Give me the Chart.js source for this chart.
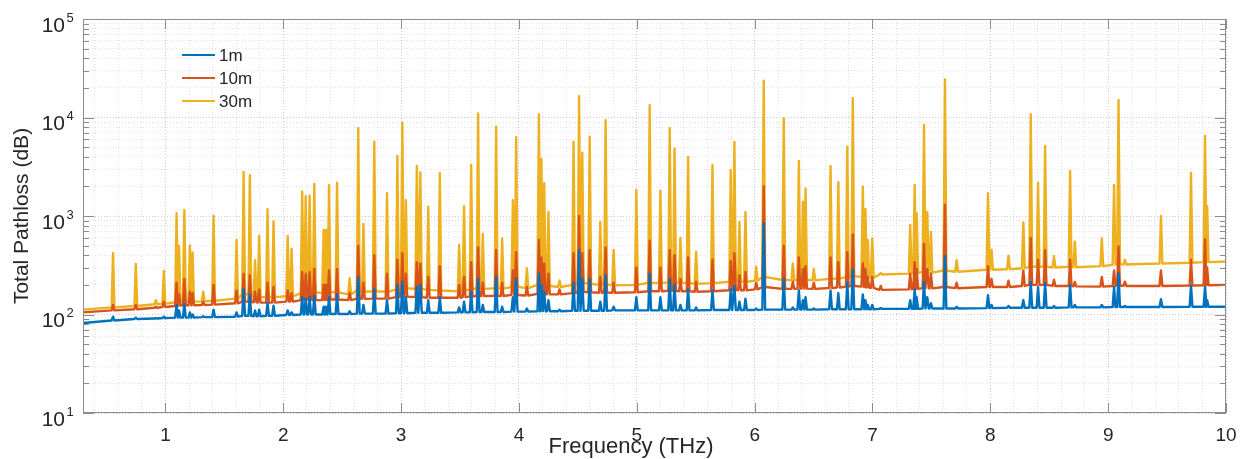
<!DOCTYPE html>
<html>
<head>
<meta charset="utf-8">
<script src="https://cdn.jsdelivr.net/npm/chart.js@4.4.1/dist/chart.umd.min.js"></script>
<style>
  html, body { margin: 0; padding: 0; background: #fff; }
  #wrap { width: 1249px; height: 459px; position: relative; }
</style>
</head>
<body>
<div id="wrap"><canvas id="pathlossChart"></canvas></div>
<script>
const seriesLabels = ["1m", "10m", "30m"];
const seriesColors = ["#0072BD", "#D95319", "#EDB120"];

const xTickValues = [1, 2, 3, 4, 5, 6, 7, 8, 9, 10];
const yTickValues = [10, 100, 1000, 10000, 100000];
const yTickExponents = ["1", "2", "3", "4", "5"];

// start / end of each curve (0.3 THz and 10 THz)
const edgeFreqs = [0.3, 10];
const edge1m = [82, 120];
const edge10m = [105, 200];
const edge30m = [112, 345];

// absorption lines (THz)
const lineFreqs = [
  0.555, 0.748, 0.918, 0.986,
  1.094, 1.115, 1.16, 1.207, 1.23, 1.32, 1.408, 1.603, 1.663, 1.716, 1.76, 1.795, 1.866, 1.917,
  2.037, 2.07, 2.16, 2.19, 2.223, 2.263, 2.342, 2.362, 2.388, 2.456, 2.563, 2.636, 2.68, 2.772, 2.88, 2.968,
  3.01, 3.04, 3.133, 3.163, 3.23, 3.328, 3.492, 3.534, 3.594, 3.653, 3.693, 3.806, 3.857, 3.948, 3.976,
  4.067, 4.169, 4.19, 4.214, 4.25, 4.344, 4.463, 4.51, 4.537, 4.6, 4.69, 4.735, 4.803, 4.996,
  5.109, 5.2, 5.279, 5.32, 5.37, 5.435, 5.503, 5.642, 5.797, 5.828, 5.871, 5.922,
  6.013, 6.077, 6.247, 6.324, 6.375, 6.41, 6.432, 6.502, 6.644, 6.71, 6.786, 6.833, 6.918, 6.94, 6.96, 6.998,
  7.07, 7.32, 7.358, 7.375, 7.437, 7.465, 7.496, 7.615, 7.714, 7.98,
  8.01, 8.154, 8.28, 8.343, 8.405, 8.465, 8.54, 8.677, 8.717, 8.946,
  9.05, 9.088, 9.142, 9.448, 9.703, 9.822, 9.84
];

// peak values (dB)
const peak1m = [
  95, 93, 92, 95,
  125, 110, 128, 105, 100, 96, 112, 105, 182, 160, 110, 112, 131, 123,
  110, 105, 150, 145, 150, 155, 120, 120, 150, 160, 108, 240, 125, 180, 140, 200,
  215, 150, 190, 200, 140, 150, 118, 135, 170, 230, 125, 240, 120, 150, 230,
  115, 260, 200, 170, 140, 112, 210, 450, 230, 230, 135, 250, 120, 150,
  260, 150, 230, 200, 125, 180, 118, 175, 180, 195, 135, 145,
  115, 850, 230, 118, 175, 140, 150, 115, 175, 165, 210, 285, 160, 140, 125, 125,
  116, 140, 180, 150, 214, 150, 130, 390, 120, 157,
  125, 122, 140, 214, 190, 210, 122, 200, 125, 125,
  190, 263, 122, 143, 196, 190, 140
];
const peak10m = [
  125, 125, 120, 135,
  210, 160, 230, 170, 165, 135, 200, 175, 260, 250, 170, 180, 210, 190,
  175, 165, 270, 260, 270, 290, 200, 200, 280, 290, 165, 500, 210, 400, 260, 360,
  420, 260, 340, 330, 240, 310, 200, 240, 340, 480, 210, 450, 210, 280, 430,
  190, 570, 380, 330, 260, 180, 420, 1000, 420, 450, 240, 480, 210, 300,
  560, 300, 450, 400, 230, 380, 215, 360, 350, 420, 250, 270,
  210, 2000, 500, 215, 380, 290, 310, 210, 380, 340, 430, 650, 330, 290, 240, 240,
  195, 260, 340, 290, 520, 290, 260, 1300, 210, 310,
  230, 220, 280, 600, 360, 450, 225, 360, 214, 240,
  280, 490, 215, 280, 360, 580, 300
];
const peak30m = [
  420, 326, 140, 276,
  1070, 500, 1150, 500, 425, 170, 1000, 570, 2800, 2600, 355, 630, 1170, 880,
  627, 466, 1770, 1590, 1620, 2110, 720, 720, 2050, 2180, 234, 7770, 830, 5670, 1700, 4070,
  8860, 1450, 3230, 2760, 1240, 2720, 510, 1260, 3300, 11000, 660, 8070, 590, 1450, 6300,
  295, 10800, 3800, 2150, 1100, 222, 5680, 16500, 4400, 6400, 870, 9400, 452, 1840,
  13300, 1810, 7770, 4860, 600, 3970, 435, 3300, 2930, 5630, 870, 1100,
  305, 23700, 9790, 330, 3630, 1400, 1900, 290, 3230, 2210, 5040, 15670, 2000, 1170, 570, 590,
  263, 810, 2070, 1070, 8390, 1100, 690, 24400, 355, 1700,
  455, 395, 862, 10800, 2180, 5130, 390, 2860, 550, 590,
  2070, 15100, 360, 1000, 2730, 6500, 1260
];

// level at the foot of each line (dB)
const foot1m = [
  87, 90, 91, 92,
  93, 93, 93, 93, 93, 94, 94, 95, 97, 97, 96, 96, 97, 97,
  99, 99, 100, 100, 100, 100, 100, 100, 101, 101, 101, 102, 102, 102, 102, 103,
  103, 103, 104, 104, 104, 104, 105, 105, 105, 106, 106, 106, 106, 107, 107,
  107, 108, 108, 108, 108, 108, 109, 109, 109, 109, 109, 109, 110, 110,
  110, 110, 110, 110, 110, 110, 110, 111, 111, 111, 111, 111,
  111, 112, 112, 112, 112, 112, 112, 112, 113, 113, 113, 113, 113, 113, 113, 113,
  114, 114, 114, 114, 115, 115, 115, 115, 115, 116,
  116, 117, 117, 117, 117, 117, 117, 118, 118, 118,
  119, 119, 119, 119, 120, 120, 120
];
const foot10m = [
  110, 113, 117, 119,
  122, 123, 124, 124, 124, 125, 126, 130, 135, 135, 133, 132, 132, 132,
  135, 135, 140, 142, 142, 140, 140, 140, 142, 142, 140, 145, 144, 145, 145, 150,
  152, 152, 150, 150, 148, 148, 148, 150, 152, 155, 154, 155, 154, 158, 158,
  156, 162, 162, 160, 160, 160, 165, 170, 170, 168, 166, 167, 166, 168,
  172, 172, 174, 174, 172, 172, 170, 172, 176, 178, 176, 176,
  180, 190, 182, 182, 183, 183, 183, 182, 186, 188, 192, 195, 192, 190, 188, 186,
  178, 180, 182, 182, 185, 185, 184, 190, 185, 190,
  190, 190, 195, 200, 200, 200, 195, 195, 193, 192,
  195, 197, 195, 195, 197, 198, 198
];
const foot30m = [
  118, 122, 127, 129,
  133, 135, 136, 136, 135, 136, 138, 145, 160, 160, 152, 150, 150, 150,
  153, 153, 165, 170, 170, 168, 165, 165, 168, 168, 160, 175, 170, 172, 170, 180,
  185, 185, 182, 182, 178, 175, 172, 175, 180, 185, 182, 185, 183, 190, 192,
  185, 200, 200, 198, 195, 190, 200, 210, 210, 205, 200, 202, 198, 200,
  210, 208, 212, 212, 210, 208, 205, 208, 215, 218, 215, 215,
  220, 240, 225, 222, 225, 225, 225, 222, 230, 232, 240, 245, 240, 240, 238, 236,
  255, 260, 265, 265, 270, 268, 266, 280, 272, 285,
  285, 288, 295, 305, 305, 305, 300, 305, 302, 310,
  320, 325, 322, 330, 335, 340, 340
];

const lineHalfWidth = 0.012;

function curvePoints(edge, foot, peak) {
  const pts = [{ x: edgeFreqs[0], y: edge[0] }];
  lineFreqs.forEach((f, i) => {
    pts.push({ x: f - lineHalfWidth, y: foot[i] });
    pts.push({ x: f, y: peak[i] });
    pts.push({ x: f + lineHalfWidth, y: foot[i] });
  });
  pts.push({ x: edgeFreqs[1], y: edge[1] });
  return pts;
}

const FONT = '"Liberation Sans", Arial, Helvetica, sans-serif';
const TEXT = "#262626";

// MATLAB-like box, inner ticks, y labels, titles and legend
const matlabAxes = {
  id: "matlabAxes",
  afterDraw(chart) {
    const { ctx, chartArea: a, scales: { x, y } } = chart;
    ctx.save();
    ctx.strokeStyle = "#8c8c8c";
    ctx.lineWidth = 1;
    ctx.strokeRect(a.left + 0.5, a.top + 0.5, a.right - a.left - 1, a.bottom - a.top - 1);

    ctx.beginPath();
    xTickValues.forEach(v => {
      const px = Math.round(x.getPixelForValue(v)) + 0.5;
      ctx.moveTo(px, a.bottom); ctx.lineTo(px, a.bottom - 10);
      ctx.moveTo(px, a.top); ctx.lineTo(px, a.top + 10);
    });
    y.ticks.forEach(t => {
      const len = yTickValues.includes(t.value) ? 11 : 6;
      const py = Math.round(y.getPixelForValue(t.value)) + 0.5;
      ctx.moveTo(a.left, py); ctx.lineTo(a.left + len, py);
      ctx.moveTo(a.right, py); ctx.lineTo(a.right - len, py);
    });
    ctx.stroke();

    // y tick labels 10^n
    ctx.fillStyle = TEXT;
    ctx.textBaseline = "alphabetic";
    yTickValues.forEach((v, i) => {
      const py = y.getPixelForValue(v);
      ctx.font = "21px " + FONT;
      ctx.textAlign = "right";
      ctx.fillText("10", 65, py + 12.5);
      ctx.font = "13px " + FONT;
      ctx.textAlign = "left";
      ctx.fillText(yTickExponents[i], 66.5, py + 2.5);
    });

    // axis titles
    ctx.textAlign = "center";
    ctx.textBaseline = "middle";
    ctx.font = "21px " + FONT;
    ctx.save();
    ctx.translate(22, 216);
    ctx.rotate(-Math.PI / 2);
    ctx.fillText("Total Pathloss (dB)", 0, 0);
    ctx.restore();
    ctx.font = "22px " + FONT;
    ctx.fillText("Frequency (THz)", 631, 447);

    // legend
    ctx.font = "17px " + FONT;
    ctx.textAlign = "left";
    chart.data.datasets.forEach((ds, i) => {
      const ly = 55 + i * 23;
      ctx.strokeStyle = ds.borderColor;
      ctx.lineWidth = 2;
      ctx.beginPath();
      ctx.moveTo(182, ly); ctx.lineTo(215, ly);
      ctx.stroke();
      ctx.fillStyle = TEXT;
      ctx.fillText(ds.label, 219, ly + 1.5);
    });
    ctx.restore();
  }
};

const datasets = [
  { label: seriesLabels[0], data: curvePoints(edge1m, foot1m, peak1m), borderColor: seriesColors[0] },
  { label: seriesLabels[1], data: curvePoints(edge10m, foot10m, peak10m), borderColor: seriesColors[1] },
  { label: seriesLabels[2], data: curvePoints(edge30m, foot30m, peak30m), borderColor: seriesColors[2] }
].map(ds => Object.assign(ds, {
  borderWidth: 2.4,
  pointRadius: 0,
  tension: 0,
  borderJoinStyle: "round",
  fill: false
}));

new Chart(document.getElementById("pathlossChart").getContext("2d"), {
  type: "line",
  data: { datasets },
  options: {
    responsive: true,
    maintainAspectRatio: false,
    animation: false,
    layout: { padding: { top: 19, right: 23, left: 0, bottom: 0 } },
    plugins: {
      legend: { display: false },
      tooltip: { enabled: false }
    },
    scales: {
      x: {
        type: "linear",
        min: 0.3,
        max: 10,
        afterBuildTicks: scale => {
          const ticks = [];
          for (let k = 2; k <= 50; k++) ticks.push({ value: k / 5 });
          scale.ticks = ticks;
        },
        afterFit: scale => { scale.height = 46; },
        ticks: {
          autoSkip: false,
          maxRotation: 0,
          padding: 11,
          color: TEXT,
          font: { family: FONT, size: 19 },
          callback: v => {
            const r = Math.round(v * 10) / 10;
            return xTickValues.includes(r) ? String(r) : "";
          }
        },
        grid: {
          drawTicks: false,
          lineWidth: 1,
          color: c => Number.isInteger(Math.round(c.tick.value * 10) / 10) ? "rgba(0,0,0,0.2)" : "rgba(0,0,0,0.11)"
        },
        border: { display: false, dash: [1, 2] }
      },
      y: {
        type: "logarithmic",
        min: 10,
        max: 100000,
        afterBuildTicks: scale => {
          const ticks = [];
          yTickValues.slice(0, -1).forEach(d => {
            for (let m = 1; m <= 9; m++) ticks.push({ value: m * d });
          });
          ticks.push({ value: yTickValues[yTickValues.length - 1] });
          scale.ticks = ticks;
        },
        afterFit: scale => { scale.width = 83; },
        ticks: { display: false },
        grid: {
          drawTicks: false,
          lineWidth: 1,
          color: c => yTickValues.includes(c.tick.value) ? "rgba(0,0,0,0.2)" : "rgba(0,0,0,0.11)"
        },
        border: { display: false, dash: [1, 2] }
      }
    }
  },
  plugins: [matlabAxes]
});
</script>
</body>
</html>
